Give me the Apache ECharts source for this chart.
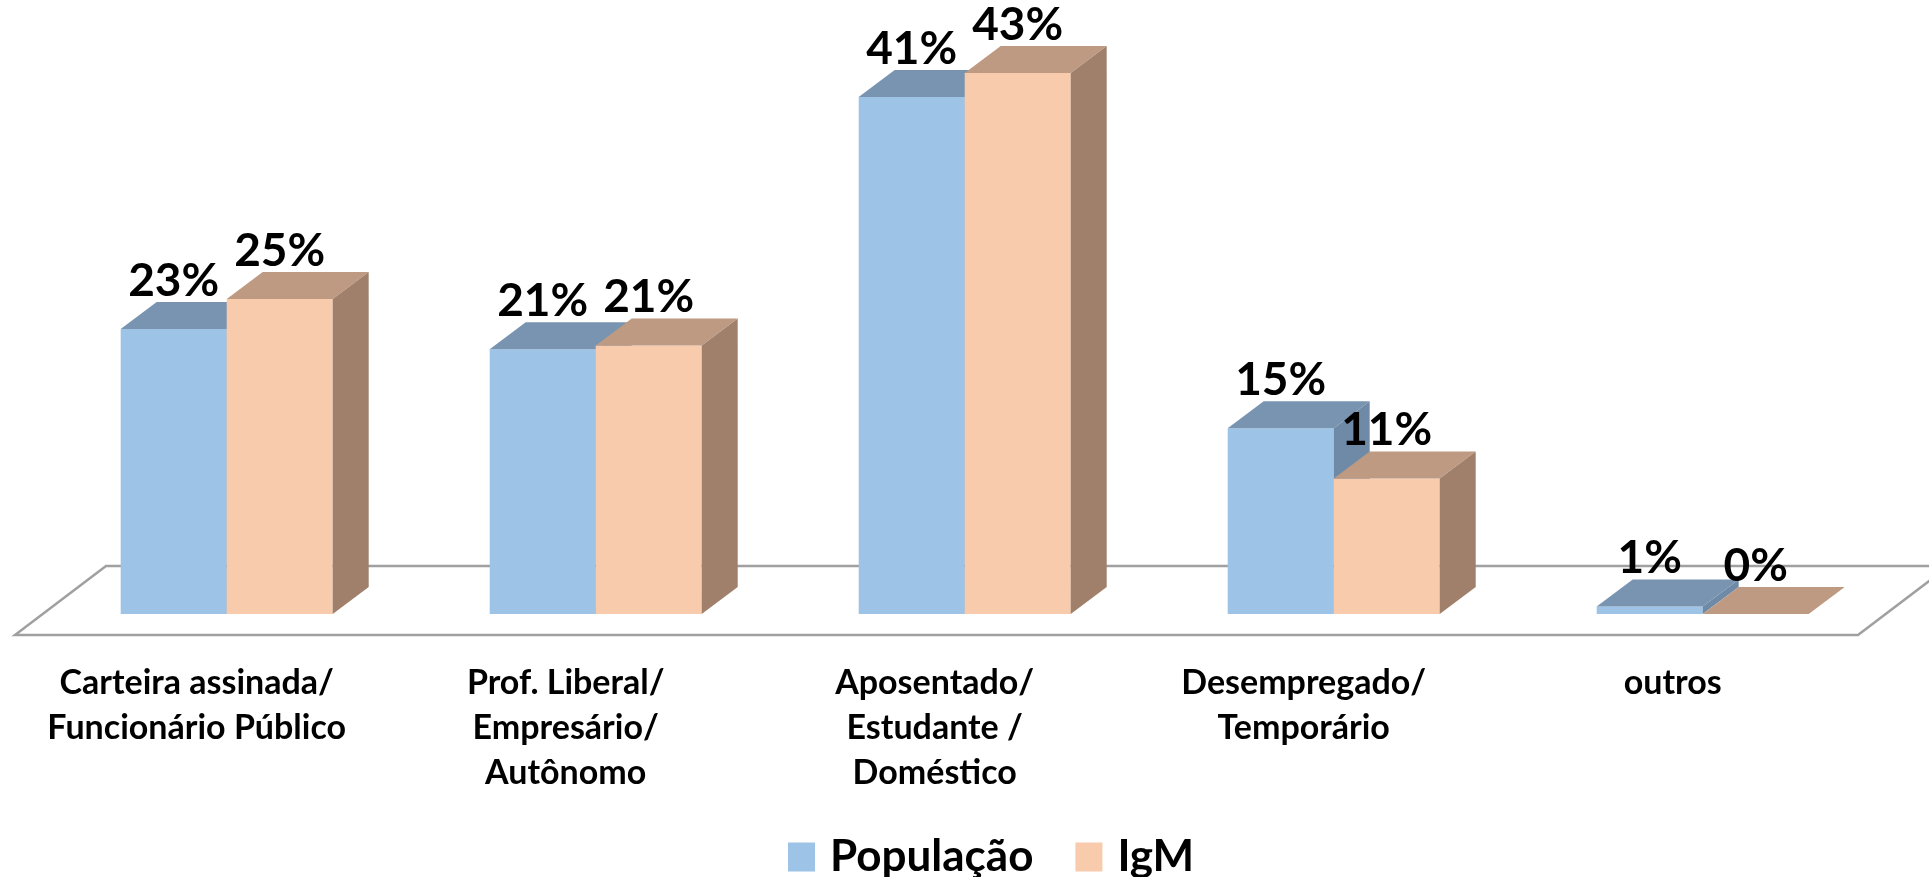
<!DOCTYPE html>
<html>
<head>
<meta charset="utf-8">
<script src="https://cdn.jsdelivr.net/npm/echarts@6/dist/echarts.min.js"></script>
<style>html,body{margin:0;padding:0;background:#fff;}#chart{width:1929px;height:877px;}</style>
</head>
<body>
<div id="chart"></div>
<script>
const categories = [
  'Carteira assinada/\nFuncionário Público',
  'Prof. Liberal/\nEmpresário/\nAutônomo',
  'Aposentado/\nEstudante /\nDoméstico',
  'Desempregado/\nTemporário',
  'outros'
];
const seriesNames = ['População', 'IgM'];
const populacao = [22.7, 21.1, 41.2, 14.8, 0.6];
const igm = [25.1, 21.4, 43.1, 10.8, 0];

const FONT = 'Lato, "Open Sans", sans-serif';
const DX = 36, DY = 27;
const BAR_FRAC = 0.2873;
const palette = [
  { front: '#9DC3E6', top: '#7894B0', side: '#6E8AA7' },
  { front: '#F8CBAD', top: '#BE9A82', side: '#A0806B' }
];

function makeRender(idx) {
  return function (params, api) {
    const cat = api.value(0), v = api.value(1);
    const top = api.coord([cat, v]);
    const base = api.coord([cat, 0]);
    const band = api.size([1, 0])[0];
    const w = band * BAR_FRAC;
    const x0 = idx === 0 ? top[0] - w : top[0];
    const ty = top[1], by = base[1];
    const c = palette[idx];
    return {
      type: 'group',
      children: [
        { type: 'rect', shape: { x: x0, y: ty, width: w, height: by - ty }, style: { fill: c.front } },
        { type: 'polygon', shape: { points: [[x0, ty], [x0 + w, ty], [x0 + w + DX, ty - DY], [x0 + DX, ty - DY]] }, style: { fill: c.top } },
        { type: 'polygon', shape: { points: [[x0 + w, ty], [x0 + w + DX, ty - DY], [x0 + w + DX, by - DY], [x0 + w, by]] }, style: { fill: c.side } },
        { type: 'text', z2: 100, x: x0 + w / 2, y: ty - DY + 2,
          style: { text: Math.round(v) + '%', fill: '#000', font: 'bold 46px ' + FONT, align: 'center', verticalAlign: 'bottom' } }
      ]
    };
  };
}

const chart = echarts.init(document.getElementById('chart'));
chart.setOption({
  animation: false,
  backgroundColor: '#ffffff',
  grid: { left: 42.2, right: 41.8, top: 49.25, bottom: 263 },
  graphic: [{
    type: 'polygon', z: 0,
    shape: { points: [[15, 635], [1858, 635], [1949, 566], [106, 566]] },
    style: { fill: '#ffffff', stroke: '#A0A0A0', lineWidth: 2.5 }
  }],
  legend: {
    left: 783, top: 830,
    itemWidth: 27, itemHeight: 29, itemGap: 42,
    icon: 'rect',
    textStyle: { fontFamily: FONT, fontWeight: 'bold', fontSize: 44, color: '#000', padding: [0, 0, 0, 10] },
    data: [
      { name: seriesNames[0], itemStyle: { color: palette[0].front } },
      { name: seriesNames[1], itemStyle: { color: palette[1].front } }
    ]
  },
  xAxis: {
    type: 'category',
    data: categories,
    axisLine: { show: false }, axisTick: { show: false }, splitLine: { show: false },
    axisLabel: { interval: 0, margin: 47, fontFamily: FONT, fontWeight: 'bold', fontSize: 34, lineHeight: 45, color: '#000', padding: [0, 60, 0, 0], align: 'center', verticalAlign: 'top' }
  },
  yAxis: { type: 'value', min: 0, max: 45, show: false, splitLine: { show: false } },
  series: [
    { name: seriesNames[0], type: 'custom', renderItem: makeRender(0), data: populacao.map((v, i) => [i, v]), itemStyle: { color: palette[0].front } },
    { name: seriesNames[1], type: 'custom', renderItem: makeRender(1), data: igm.map((v, i) => [i, v]), itemStyle: { color: palette[1].front } }
  ]
});
</script>
</body>
</html>
